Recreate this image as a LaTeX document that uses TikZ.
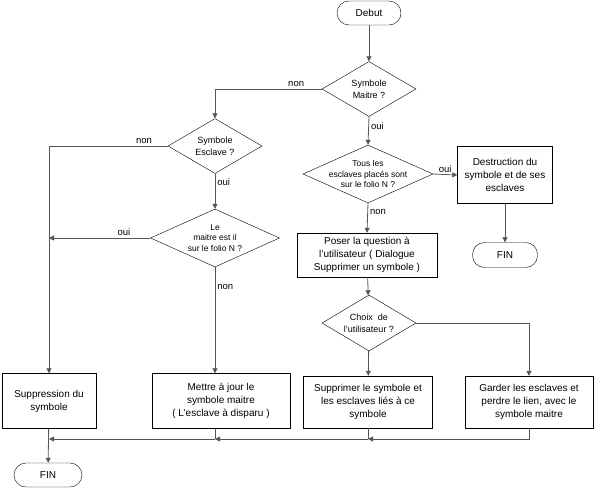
\documentclass[tikz,border=0pt]{standalone}
\usepackage{fontspec}
\setmainfont{Liberation Sans}
\usetikzlibrary{arrows.meta,shapes.geometric}
\definecolor{LineGray}{RGB}{85,85,85}
\tikzset{
  term/.style={draw,rounded corners=12pt,minimum width=64pt,minimum height=24pt,font=\fontsize{10}{12}\selectfont},
  decision/.style={diamond,draw,inner sep=0pt},
  dtext/.style={align=center,font=\fontsize{9}{12}\selectfont},
  dsmall/.style={align=center,font=\fontsize{8.5}{10.5}\selectfont},
  proc/.style={draw,align=center,inner sep=2pt,font=\fontsize{10}{13}\selectfont},
  flow/.style={draw=LineGray,line width=0.8pt,-{Triangle[length=5pt,width=5pt]}},
  link/.style={draw=LineGray,line width=0.8pt},
  lbl/.style={font=\fontsize{9.5}{11}\selectfont,inner sep=2pt}
}
\begin{document}
\begin{tikzpicture}[x=1pt,y=-1pt]
\useasboundingbox (0,0) rectangle (594,488);
% start and first test
\node[term] (debut) at (369,13) {Debut};
\node[decision,minimum width=94pt,minimum height=55pt,label={[dtext]center:{Symbole\\Maitre ?}}] (maitre) at (369,89) {};
% left branch
\node[decision,minimum width=94pt,minimum height=55pt,label={[dtext]center:{Symbole\\Esclave ?}}] (esclave) at (215,146) {};
\node[decision,minimum width=129pt,minimum height=58pt,label={[dsmall]center:{Le\\maitre est il\\sur le folio N ?}}] (lemaitre) at (215,238) {};
\node[proc,minimum width=94pt,minimum height=55pt] (suppr) at (49,401) {Suppression du\\symbole};
\node[proc,minimum width=138pt,minimum height=55pt] (mettre) at (221,401) {Mettre à jour le\\symbole maitre\\( L'esclave à disparu )};
\node[term,minimum width=68pt] (finA) at (48,475) {FIN};
% right branch
\node[decision,minimum width=130pt,minimum height=58pt,label={[dsmall]center:{Tous les\\esclaves placés sont\\sur le folio N ?}}] (tous) at (368,174) {};
\node[proc,minimum width=95pt,minimum height=57pt] (destr) at (505,175) {Destruction du\\symbole et de ses\\esclaves};
\node[term,minimum width=65pt,minimum height=25pt] (finB) at (505,255) {FIN};
\node[proc,minimum width=140pt,minimum height=44pt] (poser) at (367,255) {Poser la question à\\l'utilisateur ( Dialogue\\Supprimer un symbole )};
\node[decision,minimum width=94pt,minimum height=56pt,label={[dtext]center:{Choix\ \ de\\l'utilisateur ?}}] (choix) at (369,323) {};
\node[proc,minimum width=129pt,minimum height=52pt] (supprimer) at (368,402) {Supprimer le symbole et\\les esclaves liés à ce\\symbole};
\node[proc,minimum width=128pt,minimum height=52pt] (garder) at (529,402) {Garder les esclaves et\\perdre le lien, avec le\\symbole maitre};
\coordinate (bus) at (0,439);

\draw[flow] (debut) -- (maitre);
\draw[flow] (maitre.west) -| node[lbl,above,pos=0.12] {non} (esclave.north);
\draw[flow] (maitre.south) -- node[lbl,right,pos=0.35] {oui} (tous.north);
\draw[flow] (esclave.west) -| node[lbl,above,pos=0.1] {non} (suppr.north);
\draw[flow] (esclave.south) -- node[lbl,right,pos=0.25] {oui} (lemaitre.north);
\draw[flow] (lemaitre.west) -- node[lbl,above,pos=0.26] {oui} (lemaitre.west -| suppr.north);
\draw[flow] (lemaitre.south) -- node[lbl,right,pos=0.19] {non} (lemaitre.south |- mettre.north);
\draw[flow] (tous.east) -- node[lbl,above] {oui} (destr.west);
\draw[flow] (destr) -- (finB);
\draw[flow] (tous.south) -- node[lbl,right,pos=0.3] {non} (poser.north);
\draw[flow] (poser) -- (choix);
\draw[flow] (choix) -- (supprimer);
\draw[flow] (choix.east) -| (garder.north);
% return to FIN
\draw[flow] (garder.south) |- (supprimer.south |- bus);
\draw[link] (supprimer.south) -- (supprimer.south |- bus);
\draw[flow] (supprimer.south |- bus) -- (lemaitre.south |- bus);
\draw[link] (lemaitre.south |- mettre.south) -- (lemaitre.south |- bus);
\draw[flow] (lemaitre.south |- bus) -- (suppr.south |- bus);
\draw[flow] (suppr) -- (finA);
\end{tikzpicture}
\end{document}
